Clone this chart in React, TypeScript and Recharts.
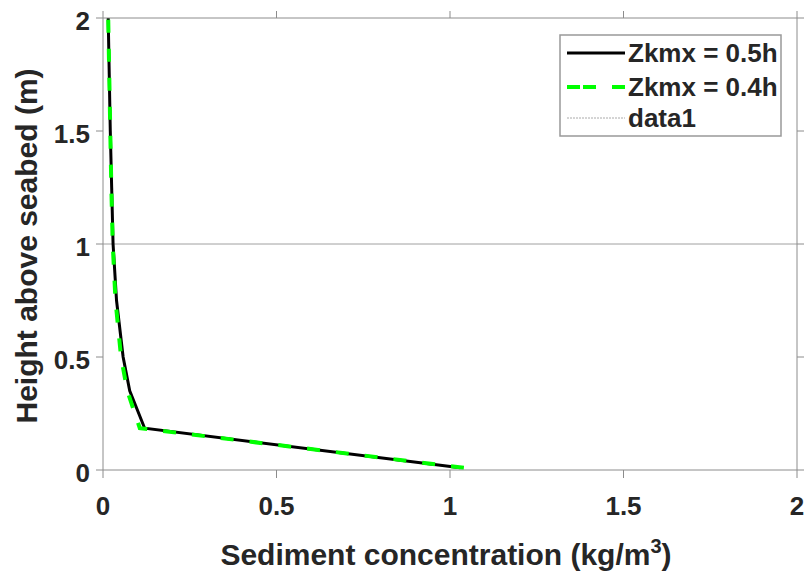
import {
  LineChart,
  Line,
  XAxis,
  YAxis,
  ReferenceLine,
} from "recharts";

// heights above seabed (m)
const HEIGHTS = [0.01, 0.185, 0.35, 0.5, 0.75, 1.0, 1.25, 1.5, 1.75, 2.0];
// sediment concentration (kg/m^3) for each height
const ZKMX_05 = [1.03, 0.12, 0.077, 0.058, 0.039, 0.029, 0.025, 0.021, 0.018, 0.015];
const ZKMX_04 = [1.04, 0.106, 0.07, 0.052, 0.036, 0.028, 0.024, 0.021, 0.018, 0.015];
const TICKS = [0, 0.5, 1, 1.5, 2];
const DATA1_LEVEL = 1;

const DATA = HEIGHTS.map((h, i) => ({ h, a: ZKMX_05[i], b: ZKMX_04[i] }));

const FONT = '"Liberation Sans", Arial, Helvetica, sans-serif';
const TEXT = "#262626";
const AXIS = "#8c8c8c";
const GREEN = "#00ff00";

const tickStyle = { fontSize: 26, fontWeight: 700, fill: TEXT, fontFamily: FONT };

function YTick(props: any) {
  const { x, y, payload } = props;
  return (
    <text x={x} y={y} dy={12} textAnchor="end" style={tickStyle}>
      {payload.value}
    </text>
  );
}

const NoTick = () => <g />;

function LegendBox() {
  const row = { fontSize: 26, fontWeight: 700, fill: TEXT, fontFamily: FONT };
  return (
    <svg
      width={224}
      height={104}
      style={{ position: "absolute", left: 559, top: 34 }}
    >
      <rect x={1} y={1} width={221} height={101} fill="#fff" stroke="#999" strokeWidth={1.5} />
      <line x1={8} y1={19} x2={66} y2={19} stroke="#000" strokeWidth={3} />
      <text x={69} y={28} style={row}>Zkmx = 0.5h</text>
      <line x1={8} y1={53} x2={66} y2={53} stroke={GREEN} strokeWidth={4} strokeDasharray="13 3 13 16 13" />
      <text x={69} y={62} style={row}>Zkmx = 0.4h</text>
      <line x1={8} y1={84} x2={66} y2={84} stroke="#aaa" strokeWidth={1} strokeDasharray="2 1" />
      <text x={69} y={93} style={row}>data1</text>
    </svg>
  );
}

export default function App() {
  return (
    <div style={{ position: "absolute", left: 0, top: 0, width: 806, height: 574, background: "#fff" }}>
      <LineChart
        width={806}
        height={574}
        data={DATA}
        layout="vertical"
        margin={{ top: 17, right: 8, bottom: 44, left: 0 }}
      >
        <XAxis
          type="number"
          dataKey="a"
          domain={[0, 2]}
          ticks={TICKS}
          height={60}
          tickSize={8}
          tickMargin={19}
          stroke={AXIS}
          tick={tickStyle}
          label={{
            content: () => (
              <text x={446} y={565} textAnchor="middle" style={{ fontSize: 30, fontWeight: 700, fill: TEXT, fontFamily: FONT }}>
                Sediment concentration (kg/m
                <tspan dy={-12} fontSize={20}>3</tspan>
                <tspan dy={12}>)</tspan>
              </text>
            ),
          }}
        />
        <XAxis
          xAxisId="top"
          orientation="top"
          type="number"
          dataKey="a"
          domain={[0, 2]}
          ticks={TICKS}
          height={1}
          tickSize={7}
          stroke={AXIS}
          tick={NoTick}
        />
        <YAxis
          type="number"
          dataKey="h"
          domain={[0, 2]}
          reversed
          ticks={TICKS}
          width={103}
          tickSize={7}
          tickMargin={6}
          stroke={AXIS}
          tick={<YTick />}
          label={{
            content: () => (
              <text
                x={37}
                y={246}
                transform="rotate(-90 37 246)"
                textAnchor="middle"
                style={{ fontSize: 30, fontWeight: 700, fill: TEXT, fontFamily: FONT }}
              >
                Height above seabed (m)
              </text>
            ),
          }}
        />
        <YAxis
          yAxisId="right"
          orientation="right"
          type="number"
          dataKey="h"
          domain={[0, 2]}
          reversed
          ticks={TICKS}
          width={1}
          tickSize={7}
          stroke={AXIS}
          tick={NoTick}
        />
        <ReferenceLine y={DATA1_LEVEL} stroke="#a0a0a0" strokeWidth={1} />
        {/* invisible series so the top/right box axes get scales */}
        <Line
          xAxisId="top"
          yAxisId="right"
          dataKey="a"
          stroke="none"
          dot={false}
          legendType="none"
          isAnimationActive={false}
        />
        <Line
          type="linear"
          dataKey="a"
          stroke="#000"
          strokeWidth={3}
          dot={false}
          isAnimationActive={false}
        />
        <Line
          type="linear"
          dataKey="b"
          stroke={GREEN}
          strokeWidth={4}
          strokeDasharray="13 16"
          dot={false}
          isAnimationActive={false}
        />
      </LineChart>
      <LegendBox />
    </div>
  );
}
